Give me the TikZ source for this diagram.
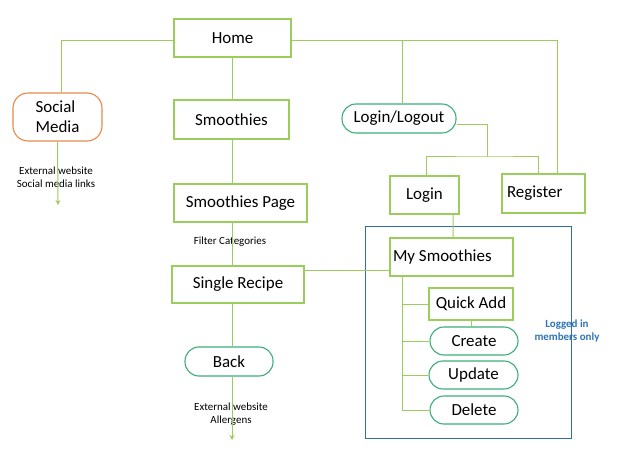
\documentclass[tikz,border=0pt]{standalone}
\usepackage{fontspec}
\setmainfont{Carlito}
\usetikzlibrary{arrows.meta,calc}
\definecolor{linegreen}{HTML}{9BCD5C}
\definecolor{pillgreen}{HTML}{3DAE78}
\definecolor{boxorange}{HTML}{E8894A}
\definecolor{frameblue}{HTML}{2E6FAA}
\definecolor{noteblue}{HTML}{2E75B6}
\tikzset{
  pagebox/.style={draw=linegreen, line width=1.1bp, inner sep=0pt, font=\fontsize{17}{20}\selectfont},
  pill/.style={draw=pillgreen, line width=1.1bp, inner sep=0pt, rounded corners=14bp, font=\fontsize{17}{20}\selectfont},
  link/.style={linegreen, line width=1bp},
  note/.style={font=\fontsize{11}{13}\selectfont, align=center, inner sep=0pt}
}
\begin{document}
\begin{tikzpicture}[x=1bp, y=-1bp]
  \useasboundingbox[fill=white] (0,0) rectangle (629,465);
  \node [draw=frameblue, line width=0.9bp, minimum width=206bp, minimum height=212bp] (frame) at (468,332) {};
  \node [pagebox, minimum width=117bp, minimum height=38bp] (home) at (232.5,38) {Home};
  \node [pagebox, draw=boxorange, rounded corners=15bp, minimum width=89bp, minimum height=48bp, align=left] (social) at (57.5,117) {Social\\Media};
  \node [pagebox, minimum width=115bp, minimum height=39bp] (smoothies) at (231.5,119.5) {Smoothies};
  \node [pagebox, minimum width=133bp, minimum height=38bp] (spage) at (240.5,203) {Smoothies Page};
  \node [pagebox, minimum width=132bp, minimum height=37bp] (recipe) at (238,284.5) {Single Recipe};
  \node [pill, minimum width=88bp, minimum height=29bp] (back) at (229,361.5) {Back};
  \node [pill, minimum width=114bp, minimum height=29bp] (loginout) at (399,118.5) {Login/Logout};
  \node [pagebox, minimum width=69bp, minimum height=38bp] (login) at (424.5,195) {Login};
  \node [pagebox, minimum width=83bp, minimum height=39bp] (register) at (543.5,193.5) {\makebox[73bp][l]{Register}};
  \node [pagebox, inner xsep=3bp, minimum height=38bp] (mysm) at (451.5,257) {\makebox[117bp][l]{My Smoothies}};
  \node [pagebox, minimum width=84bp, minimum height=32bp] (quickadd) at (471,304) {Quick Add};
  \node [pill, minimum width=88bp, minimum height=28bp] (create) at (474,341) {Create};
  \node [pill, minimum width=89bp, minimum height=28bp] (update) at (473.5,375) {Update};
  \node [pill, minimum width=88bp, minimum height=28bp] (delete) at (474,410) {Delete};
  \node [note] (extsocial) at (56,177) {External website\\Social media links};
  \node [note] (filter) at (230,242) {Filter Categories};
  \node [note] (extallergen) at (231,414) {External website\\Allergens};
  \node [note, font=\fontsize{11}{13}\selectfont\bfseries, text=noteblue] (logged) at (567,331) {Logged in\\members only};
  \coordinate (spine) at (232,0);
  \coordinate (socialend) at (58,205);
  \coordinate (backend) at (232,440);
  \coordinate (fork) at (487,157);
  \coordinate (trunk) at (402,276);
  % left side
  \draw [link] ([yshift=-3bp]home.west) -| ([xshift=3.5bp]social.north);
  \draw [link, -{Stealth[length=5bp,width=5bp]}] (social.south) -- (socialend);
  \draw [link] (spine |- home.south) -- (spine |- smoothies.north);
  \draw [link] (spine |- smoothies.south) -- (spine |- spage.north);
  \draw [link] (spine |- spage.south) -- (spine |- recipe.north);
  \draw [link] (spine |- recipe.south) -- (spine |- back.north);
  \draw [link, -{Stealth[length=5bp,width=5bp]}] (spine |- back.south) -- (backend);
  \draw [link] ($(recipe.east)+(0,-13.5)$) -| (mysm.west);
  % right side
  \draw [link] ([yshift=-3bp]home.east) -| ([xshift=13.5bp]register.north);
  \draw [link] ([xshift=3bp]loginout.north) |- ([yshift=-3bp]home.east);
  \draw [link] ([yshift=-6.5bp]loginout.east) -| (fork);
  \draw [link] ([xshift=1.5bp]login.north) |- (fork) -| ([xshift=-5.5bp]register.north);
  \draw [link] ([xshift=28.5bp]login.south) -- ([xshift=1.5bp]mysm.north);
  % members area
  \draw [link] (trunk) |- (delete.west);
  \foreach \n in {quickadd,create,update}
    \draw [link] (trunk |- \n.west) -- (\n.west);
  \draw [link] (quickadd.south) -- (quickadd.south |- create.north);
\end{tikzpicture}
\end{document}
